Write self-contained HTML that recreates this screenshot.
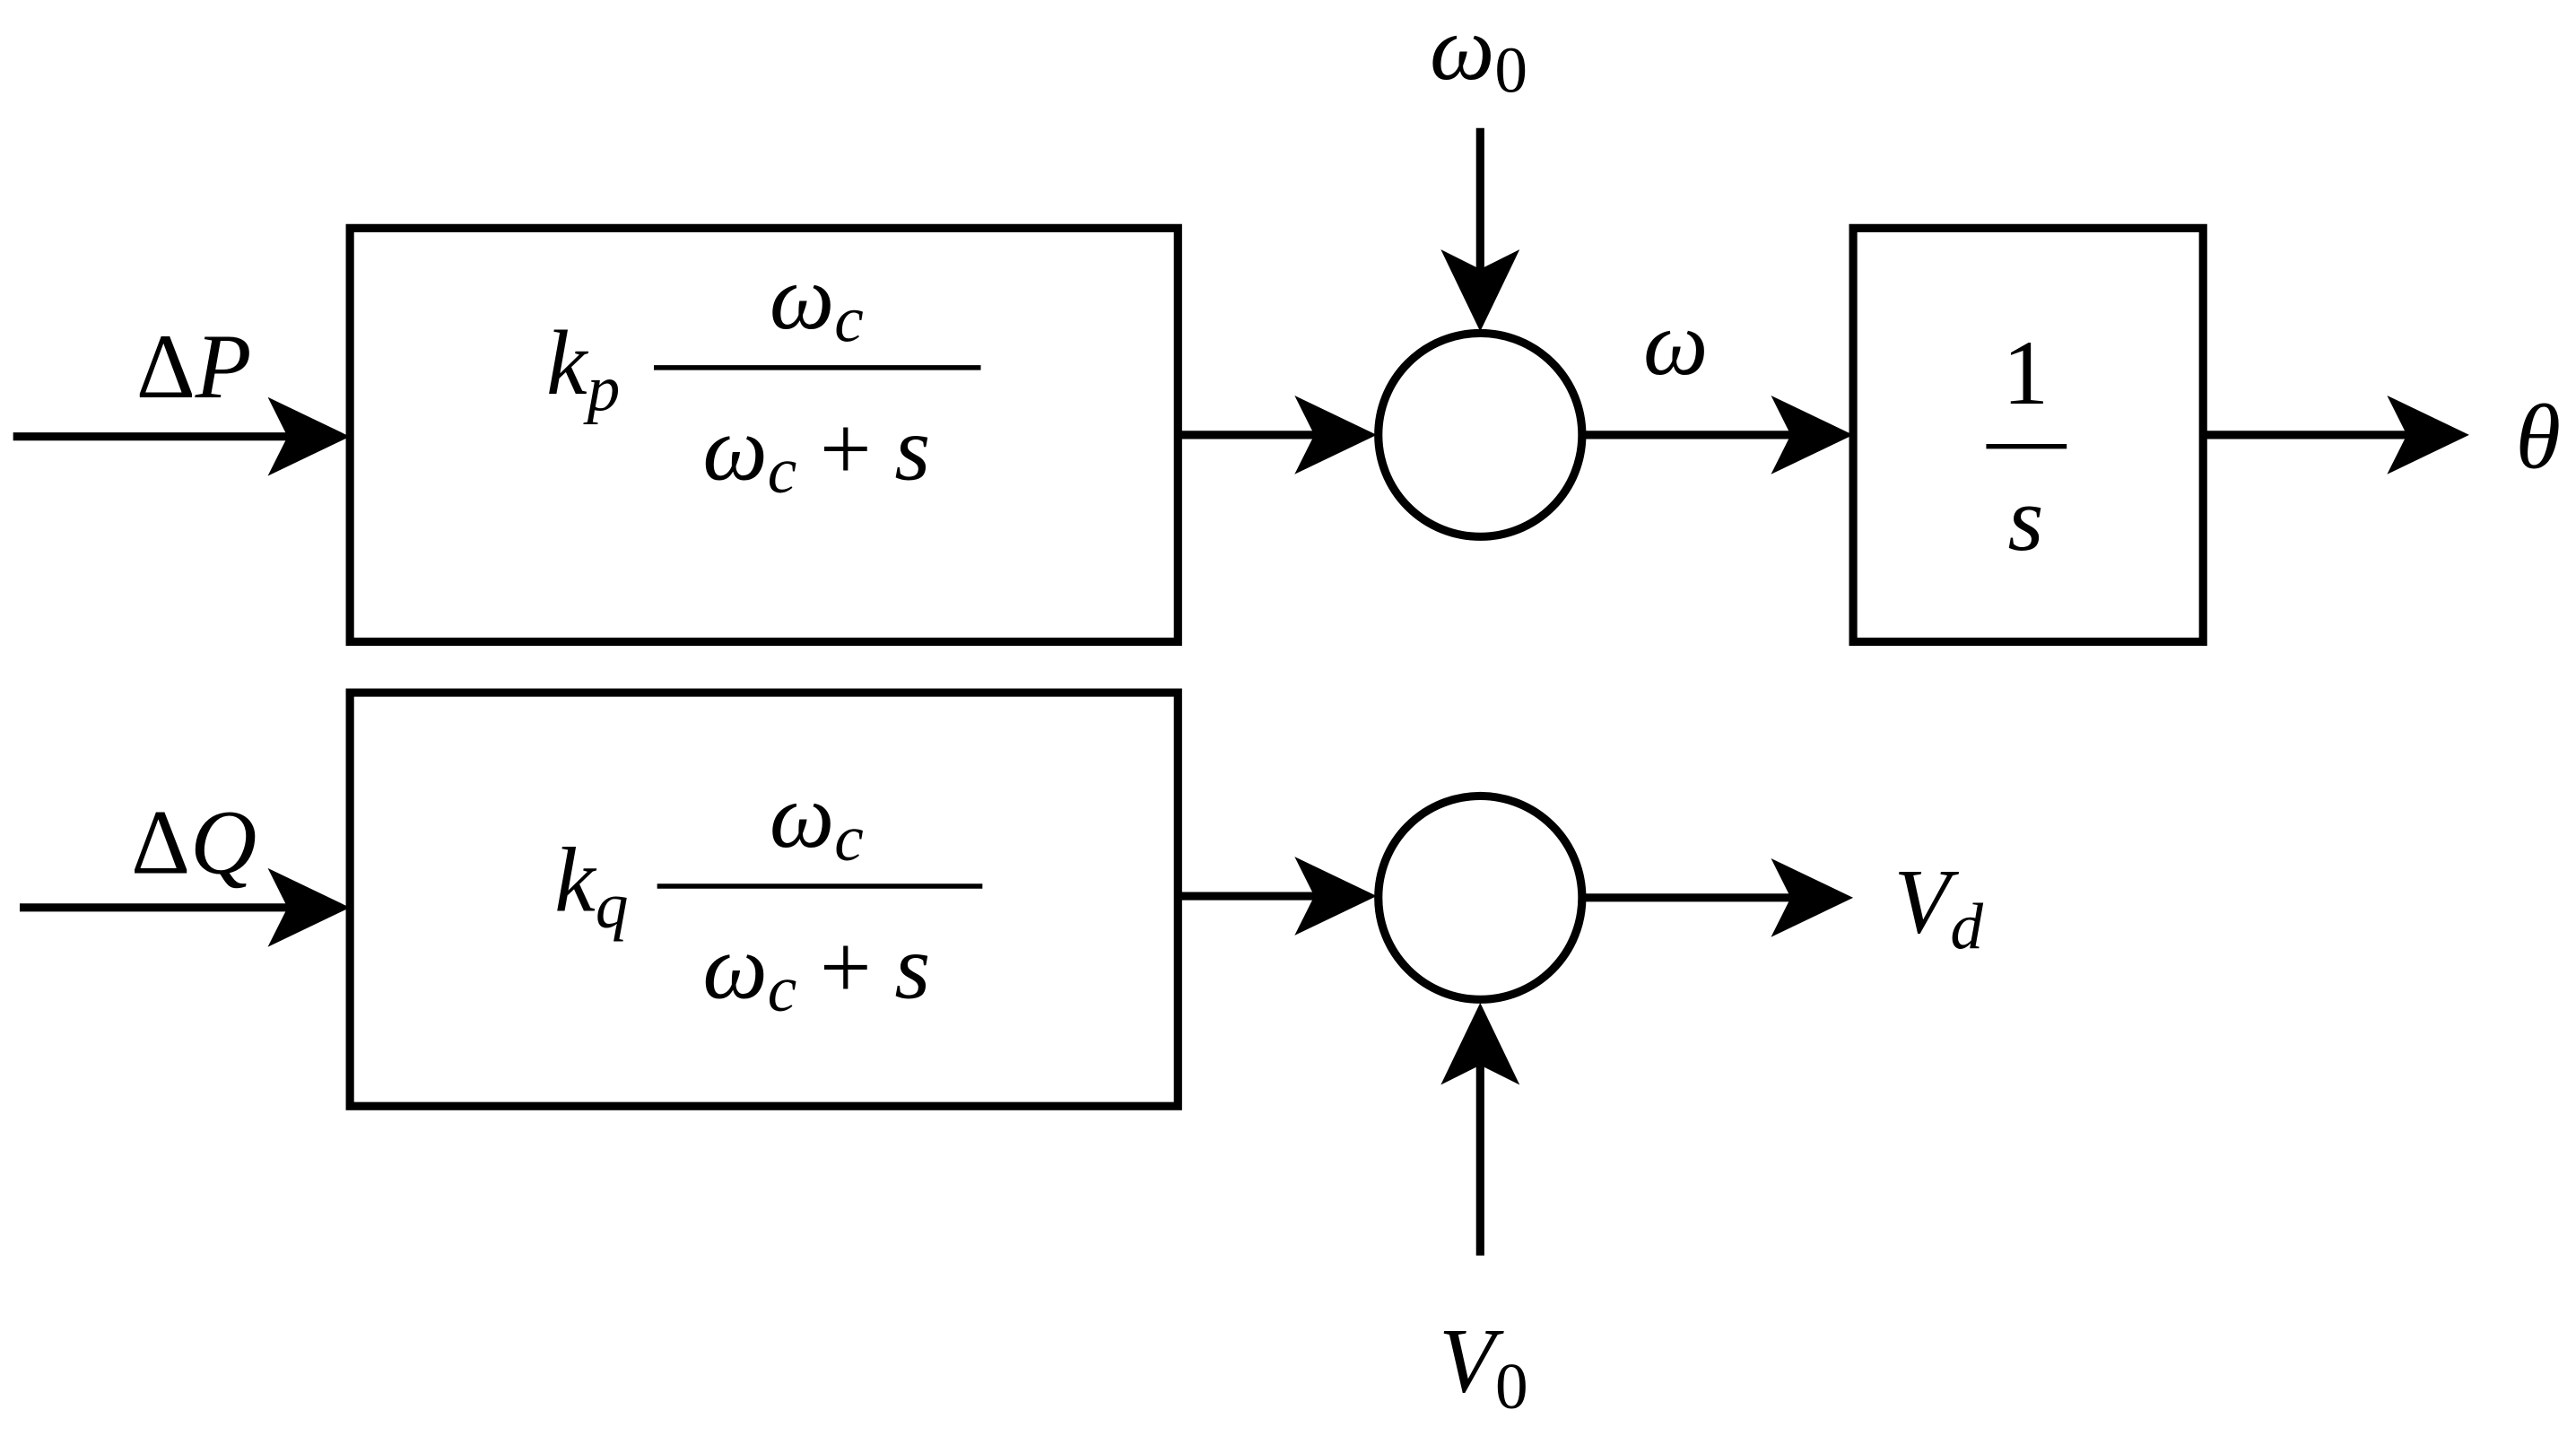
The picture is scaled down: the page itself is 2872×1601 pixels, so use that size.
<!DOCTYPE html>
<html><head><meta charset="utf-8"><style>html,body{margin:0;padding:0;background:#fff}svg{display:block}</style></head>
<body>
<svg width="2872" height="1601" viewBox="0 0 1568 875" preserveAspectRatio="none" xmlns="http://www.w3.org/2000/svg">
<defs>
<marker id="a" markerWidth="10" markerHeight="10" refX="9" refY="5" orient="auto" markerUnits="userSpaceOnUse" viewBox="0 0 10 10">
</marker>
</defs>
<g stroke="#000" stroke-width="5" fill="none">
<rect x="213" y="139" width="504" height="252" fill="#fff"/>
<rect x="213" y="422" width="504" height="252" fill="#fff"/>
<rect x="1128" y="139" width="213" height="252" fill="#fff"/>
<circle cx="901" cy="265" r="62"/>
<circle cx="901" cy="547" r="62"/>
<line x1="8" y1="266" x2="200" y2="266"/>
<line x1="12" y1="553" x2="200" y2="553"/>
<line x1="717" y1="265" x2="825" y2="265"/>
<line x1="717" y1="546" x2="825" y2="546"/>
<line x1="901" y1="78" x2="901" y2="190"/>
<line x1="963" y1="265" x2="1115" y2="265"/>
<line x1="1341" y1="265" x2="1490" y2="265"/>
<line x1="963" y1="547" x2="1115" y2="547"/>
<line x1="901" y1="765" x2="901" y2="625"/>
</g>
<g fill="#000">
<path d="M213,266 L163,242 L175,266 L163,290 Z"/>
<path d="M213,553 L163,529 L175,553 L163,577 Z"/>
<path d="M838,265 L788,241 L800,265 L788,289 Z"/>
<path d="M838,546 L788,522 L800,546 L788,570 Z"/>
<path d="M901,202 L877,152 L901,164 L925,152 Z"/>
<path d="M1128,265 L1078,241 L1090,265 L1078,289 Z"/>
<path d="M1503,265 L1453,241 L1465,265 L1453,289 Z"/>
<path d="M1128,547 L1078,523 L1090,547 L1078,571 Z"/>
<path d="M901,611 L877,661 L901,649 L925,661 Z"/>
</g>
<g stroke="#000" stroke-width="3">
<line x1="398" y1="224" x2="597" y2="224"/>
<line x1="400" y1="540" x2="598" y2="540"/>
<line x1="1209" y1="272" x2="1258" y2="272"/>
</g>
<g font-family="Liberation Serif, serif" font-size="56" fill="#000">
<text x="900" y="48" text-anchor="middle" font-style="italic">ω<tspan font-style="normal" font-size="40" dy="8">0</tspan></text>
<text x="118" y="242" text-anchor="middle">Δ<tspan font-style="italic">P</tspan></text>
<text x="118" y="532" text-anchor="middle">Δ<tspan font-style="italic">Q</tspan></text>
<text x="1020" y="228" text-anchor="middle" font-style="italic">ω</text>
<text x="1545" y="285" text-anchor="middle" font-style="italic">θ</text>
<text x="1180" y="568" text-anchor="middle" font-style="italic">V<tspan font-size="40" dy="10">d</tspan></text>
<text x="903" y="848" text-anchor="middle" font-style="italic">V<tspan font-style="normal" font-size="40" dy="10">0</tspan></text>
<text x="355" y="240" text-anchor="middle" font-style="italic">k<tspan font-size="40" dy="10">p</tspan></text>
<text x="360" y="555" text-anchor="middle" font-style="italic">k<tspan font-size="40" dy="10">q</tspan></text>
<text x="497" y="200" text-anchor="middle" font-style="italic">ω<tspan font-size="40" dy="8">c</tspan></text>
<text x="497" y="292" text-anchor="middle" font-style="italic">ω<tspan font-size="40" dy="8">c</tspan><tspan font-style="normal" dy="-8"> + </tspan>s</text>
<text x="497" y="516" text-anchor="middle" font-style="italic">ω<tspan font-size="40" dy="8">c</tspan></text>
<text x="497" y="608" text-anchor="middle" font-style="italic">ω<tspan font-size="40" dy="8">c</tspan><tspan font-style="normal" dy="-8"> + </tspan>s</text>
<text x="1233" y="246" text-anchor="middle">1</text>
<text x="1233" y="335" text-anchor="middle" font-style="italic">s</text>
</g>
</svg>
</body></html>
